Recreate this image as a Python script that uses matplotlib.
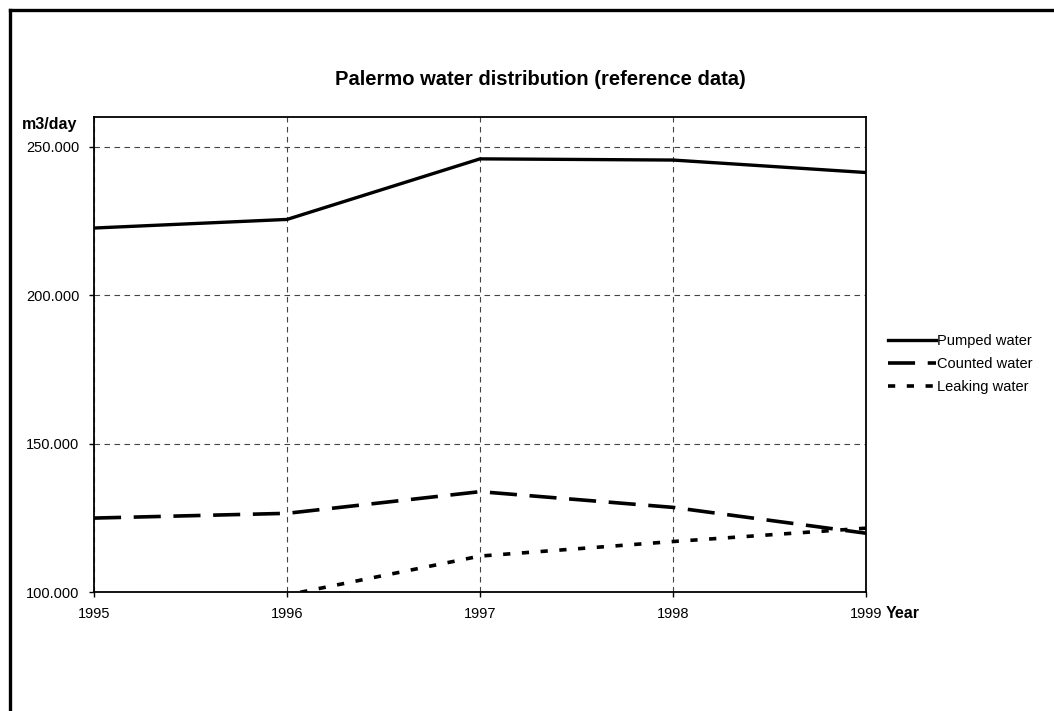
import numpy as np
import matplotlib
matplotlib.use("Agg")
import matplotlib.pyplot as plt
from matplotlib.lines import Line2D
from matplotlib.ticker import FuncFormatter

plt.rcParams['font.family'] = ['Liberation Sans', 'DejaVu Sans']

years = [1995, 1996, 1997, 1998, 1999]
pumped = [222600, 225500, 245900, 245500, 241300]
counted = [124900, 126500, 133800, 128500, 119800]
leaking = [97700, 99000, 112100, 117000, 121500]
y_ticks = [100000, 150000, 200000, 250000]

W, H = 1054, 711
fig = plt.figure(figsize=(W / 100, H / 100), dpi=100)
ax = fig.add_axes([94 / W, 1 - 592 / H, (866 - 94) / W, (592 - 117) / H])

ax.plot(years, pumped, color='black', lw=2.4, label='Pumped water')
ax.plot(years, counted, color='black', lw=2.6, dashes=(7.5, 3.5), label='Counted water')
ax.plot(years, leaking, color='black', lw=2.6, dashes=(2, 3.2), label='Leaking water')

ax.set_xlim(1995, 1999)
ax.set_ylim(100000, 260000)
ax.set_xticks(years)
ax.set_yticks(y_ticks)
ax.yaxis.set_major_formatter(FuncFormatter(lambda v, p: f"{int(v):,}".replace(',', '.')))
ax.tick_params(labelsize=10.5, length=3.5, width=1, direction='out')
ax.tick_params(axis='y', pad=7)
ax.tick_params(axis='x', pad=7)
ax.grid(True, color='#444444', lw=0.8, dashes=(5, 4))
for s in ax.spines.values():
    s.set_linewidth(1.3)

ax.set_title('Palermo water distribution (reference data)', fontsize=14.5, fontweight='bold', pad=23, x=0.578)
fig.text(22 / W, 1 - 124 / H, 'm3/day', fontsize=11.5, fontweight='bold', va='center', ha='left')
fig.text(886 / W, 1 - 613 / H, 'Year', fontsize=11.5, fontweight='bold', va='center', ha='left')

ax.legend(loc='center left', bbox_to_anchor=(888 / W, 1 - 364 / H), bbox_transform=fig.transFigure,
          frameon=False, fontsize=10.5, handlelength=3.3, handletextpad=0.05, labelspacing=0.62,
          borderaxespad=0, borderpad=0)

# outer frame (left and top edges visible)
fig.add_artist(Line2D([9.5 / W, 9.5 / W], [0, 1 - 9.5 / H], color='black', lw=2.4, transform=fig.transFigure))
fig.add_artist(Line2D([9.5 / W, 1], [1 - 9.5 / H, 1 - 9.5 / H], color='black', lw=2.4, transform=fig.transFigure))

fig.savefig('out.png', dpi=100)
